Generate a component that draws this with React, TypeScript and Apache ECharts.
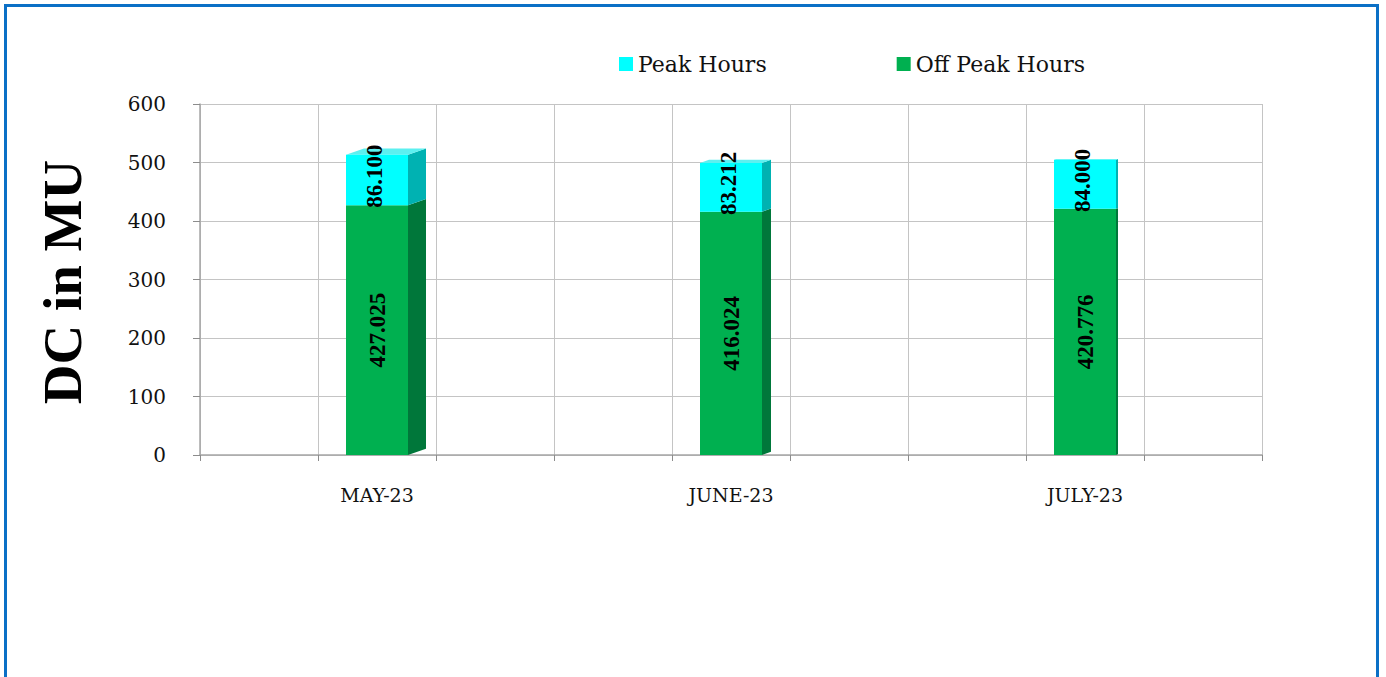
import React, { useEffect, useRef } from "react";
import * as echarts from "echarts";

// Monthly DC (MU) split into peak and off-peak hours
const months = ["MAY-23", "JUNE-23", "JULY-23"];
const offPeakHours = [427.025, 416.024, 420.776];
const peakHours = [86.1, 83.212, 84.0];
const yTicks = { min: 0, max: 600, step: 100 };

// Visual constants for the pseudo-3D bars
const BAR_W = 62;
const SIDE_DEPTH = [18, 9, 2];
const GREEN = "#00B050";
const GREEN_SIDE = "#00773A";
const CYAN = "#00FFFF";
const CYAN_SIDE = "#00B2B2";
const CYAN_TOP = "#5CF0F0";
const SERIF = "'DejaVu Serif', serif";
const SERIF_BOLD = "'Liberation Serif', 'Times New Roman', serif";

export default function App() {
  const ref = useRef<HTMLDivElement>(null);

  useEffect(() => {
    if (!ref.current) return;
    const chart = echarts.init(ref.current, undefined, { renderer: "svg" });

    const sideData = months.map((_, i) => [i, 0, offPeakHours[i], offPeakHours[i] + peakHours[i]]);

    const barLabel = {
      show: true,
      position: "inside" as const,
      rotate: 90,
      fontFamily: SERIF_BOLD,
      fontWeight: "bold" as const,
      fontSize: 23,
      color: "#000",
      formatter: (p: any) => Number(p.value).toFixed(3),
    };

    chart.setOption({
      animation: false,
      backgroundColor: "#ffffff",
      legend: {
        data: ["Peak Hours", "Off Peak Hours"],
        left: 614,
        top: 48,
        itemWidth: 14,
        itemHeight: 14,
        itemGap: 130,
        icon: "rect",
        textStyle: { fontFamily: SERIF, fontSize: 22, color: "#111" },
      },
      grid: { left: 200, right: 124, top: 104, bottom: 222, containLabel: false },
      xAxis: [
        {
          type: "category",
          data: months,
          position: "bottom",
          axisLine: { show: true, lineStyle: { color: "#a6a6a6", width: 1.5 } },
          axisTick: { show: false },
          axisLabel: {
            fontFamily: SERIF,
            fontSize: 19,
            color: "#111",
            margin: 30,
          },
          splitLine: { show: false },
        },
        {
          type: "value",
          min: 0,
          max: 9,
          interval: 1,
          position: "bottom",
          axisLine: { show: false },
          axisTick: { show: true, length: 6, lineStyle: { color: "#8c8c8c" } },
          axisLabel: { show: false },
          splitLine: { show: true, lineStyle: { color: "#c4c4c4", width: 1 } },
        },
      ],
      yAxis: {
        type: "value",
        min: yTicks.min,
        max: yTicks.max,
        interval: yTicks.step,
        axisLine: { show: true, lineStyle: { color: "#a6a6a6", width: 1.5 } },
        axisTick: { show: true, length: 7, lineStyle: { color: "#8c8c8c" } },
        axisLabel: { fontFamily: SERIF, fontSize: 20, color: "#111", margin: 34 },
        splitLine: { show: true, lineStyle: { color: "#c4c4c4", width: 1 } },
      },
      graphic: [
        {
          type: "text",
          x: 62,
          y: 282,
          rotation: Math.PI / 2,
          style: {
            text: "DC in MU",
            fontFamily: SERIF_BOLD,
            fontWeight: "bold",
            fontSize: 55,
            fill: "#000",
            textAlign: "center",
            textVerticalAlign: "middle",
          },
        },
      ],
      series: [
        {
          name: "Off Peak Hours",
          type: "bar",
          stack: "dc",
          xAxisIndex: 0,
          barWidth: BAR_W,
          data: offPeakHours,
          itemStyle: { color: GREEN },
          label: barLabel,
          z: 3,
        },
        {
          name: "Peak Hours",
          type: "bar",
          stack: "dc",
          xAxisIndex: 0,
          barWidth: BAR_W,
          data: peakHours,
          itemStyle: { color: CYAN },
          label: { ...barLabel, offset: [4, -3] },
          z: 3,
        },
        {
          name: "sides",
          type: "custom",
          xAxisIndex: 0,
          silent: true,
          z: 1,
          encode: { x: 0, y: [1, 2, 3] },
          data: sideData,
          renderItem: (_params: any, api: any) => {
            const i = api.value(0);
            const base = api.coord([i, api.value(1)]);
            const mid = api.coord([i, api.value(2)]);
            const top = api.coord([i, api.value(3)]);
            const d = SIDE_DEPTH[i] ?? 0;
            const dy = d * 0.35;
            const xr = base[0] + BAR_W / 2;
            const xl = base[0] - BAR_W / 2;
            return {
              type: "group",
              children: [
                {
                  type: "polygon",
                  shape: { points: [[xr, mid[1]], [xr + d, mid[1] - dy], [xr + d, base[1] - dy], [xr, base[1]]] },
                  style: { fill: GREEN_SIDE },
                },
                {
                  type: "polygon",
                  shape: { points: [[xr, top[1]], [xr + d, top[1] - dy], [xr + d, mid[1] - dy], [xr, mid[1]]] },
                  style: { fill: CYAN_SIDE },
                },
                {
                  type: "polygon",
                  shape: { points: [[xl, top[1]], [xr, top[1]], [xr + d, top[1] - dy], [xl + d, top[1] - dy]] },
                  style: { fill: CYAN_TOP },
                },
              ],
            };
          },
        },
      ],
    });

    return () => chart.dispose();
  }, []);

  return (
    <div style={{ position: "fixed", left: 0, top: 0, width: 1386, height: 677, background: "#fff", overflow: "hidden" }}>
      <div ref={ref} style={{ position: "absolute", left: 0, top: 0, width: 1386, height: 677 }} />
      <div
        style={{
          position: "absolute",
          left: 4,
          top: 4,
          width: 1369,
          height: 700,
          border: "3px solid #0b70c6",
          pointerEvents: "none",
        }}
      />
    </div>
  );
}
